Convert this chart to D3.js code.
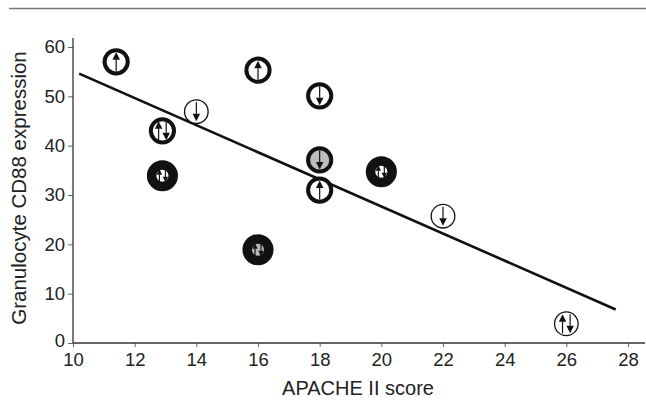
<!DOCTYPE html>
<html>
<head>
<meta charset="utf-8">
<script src="https://cdn.jsdelivr.net/npm/d3@7"></script>
<style>
  body { margin: 0; background: #fff; }
  svg { display: block; font-family: "Liberation Sans", Arial, sans-serif; }
  .tick text { fill: #222; }
</style>
</head>
<body>
<svg id="chart"></svg>
<script>
// values
const apache = [11.4, 14, 12.9, 12.9, 16, 18, 18, 18, 20, 16, 22, 26];
const cd88 = [57, 46.9, 43, 33.9, 55.3, 50.1, 37.1, 31, 34.7, 18.9, 25.7, 3.9];
const marker = ["up-thick", "down-thin", "updown-thick", "updown-heavy",
                "up-thick", "down-thick", "down-gray", "up-thick",
                "updown-heavy", "updown-heavy-gray", "down-thin", "updown-thin"];
const fitX = [10.2, 27.6];
const fitY = [54.6, 6.8];
const xTicks = [10, 12, 14, 16, 18, 20, 22, 24, 26, 28];
const yTicks = [0, 10, 20, 30, 40, 50, 60];

const w = 646, h = 400;
const svg = d3.select("#chart").attr("width", w).attr("height", h);

const x = d3.scaleLinear().domain([10, 28]).range([73, 628]);
const y = d3.scaleLinear().domain([0, 60]).range([343, 47]);

// rule across the top
svg.append("line")
   .attr("x1", 9).attr("x2", w).attr("y1", 8.5).attr("y2", 8.5)
   .attr("stroke", "#777").attr("stroke-width", 1.5);

const gx = svg.append("g")
   .attr("transform", "translate(0," + y(0) + ")")
   .call(d3.axisBottom(x).tickValues(xTicks).tickSize(4).tickPadding(6).tickSizeOuter(0));
gx.select(".domain").remove();
gx.selectAll(".tick line").attr("stroke", "#666");
gx.selectAll(".tick text").style("font-size", "18.5px");

const gy = svg.append("g")
   .attr("transform", "translate(" + x(10) + ",0)")
   .call(d3.axisLeft(y).tickValues(yTicks).tickSize(5).tickPadding(3).tickSizeOuter(0));
gy.select(".domain").remove();
gy.selectAll(".tick line").attr("stroke", "#666");
gy.selectAll(".tick text").style("font-size", "18.5px");
gy.selectAll(".tick text").filter(d => d === 0).attr("dy", "0.2em");

// axis lines
svg.append("line")
   .attr("x1", x(10)).attr("x2", 645).attr("y1", y(0)).attr("y2", y(0))
   .attr("stroke", "#333").attr("stroke-width", 1.3);
svg.append("line")
   .attr("x1", x(10)).attr("x2", x(10)).attr("y1", y(0)).attr("y2", 38)
   .attr("stroke", "#333").attr("stroke-width", 1.3);

svg.append("text")
   .attr("x", 358).attr("y", 395)
   .attr("text-anchor", "middle")
   .style("font-size", "20px").attr("fill", "#222")
   .text("APACHE II score");

svg.append("text")
   .attr("transform", "translate(26," + 188 + ") rotate(-90)")
   .attr("text-anchor", "middle")
   .style("font-size", "20.5px").attr("fill", "#222")
   .text("Granulocyte CD88 expression");

// regression line
svg.append("line")
   .attr("x1", x(fitX[0])).attr("y1", y(fitY[0]))
   .attr("x2", x(fitX[1])).attr("y2", y(fitY[1]))
   .attr("stroke", "#111").attr("stroke-width", 2.6);

// marker styles
const ringStyle = {
  "thin":  { r: 11.8, sw: 1.3, fill: "#fff" },
  "thick": { r: 11.6, sw: 4, fill: "#fff" },
  "gray":  { r: 11.6, sw: 4, fill: "#bdbdbd" },
  "heavy": { r: 10.8, sw: 9.5, fill: "#fff" },
  "heavy-gray": { r: 10.8, sw: 9.5, fill: "#b8b8b8" }
};

function arrow(g, cx, up, len, head) {
  // stem plus triangular head
  const y0 = up ? len / 2 : -len / 2;
  const y1 = up ? -len / 2 : len / 2;
  const dir = up ? 1 : -1;
  g.append("line")
   .attr("x1", cx).attr("x2", cx).attr("y1", y0).attr("y2", y1 + dir * head)
   .attr("stroke", "#111").attr("stroke-width", 1.2);
  g.append("path")
   .attr("d", d3.line()([[cx - head / 2, y1 + dir * head], [cx + head / 2, y1 + dir * head], [cx, y1]]) + "Z")
   .attr("fill", "#111");
}

const pts = svg.append("g").selectAll("g")
  .data(apache.map((a, i) => ({ a: a, v: cd88[i], m: marker[i] })))
  .enter()
  .append("g")
  .attr("transform", d => "translate(" + x(d.a) + "," + y(d.v) + ")");

pts.each(function(d) {
  const g = d3.select(this);
  const parts = d.m.split("-");
  const dirn = parts[0];
  const ring = parts.slice(1).join("-");
  const st = ringStyle[ring];
  g.append("circle")
   .attr("r", st.r)
   .attr("fill", st.fill)
   .attr("stroke", "#111")
   .attr("stroke-width", st.sw);
  const small = ring.indexOf("heavy") === 0;
  const len = small ? 13 : 19;
  const head = small ? 5.5 : 7.5;
  if (dirn === "up") arrow(g, 0, true, len, head);
  else if (dirn === "down") arrow(g, 0, false, len, head);
  else {
    const off = small ? 3 : 3.8;
    arrow(g, -off, true, len, head);
    arrow(g, off, false, len, head);
  }
});
</script>
</body>
</html>
